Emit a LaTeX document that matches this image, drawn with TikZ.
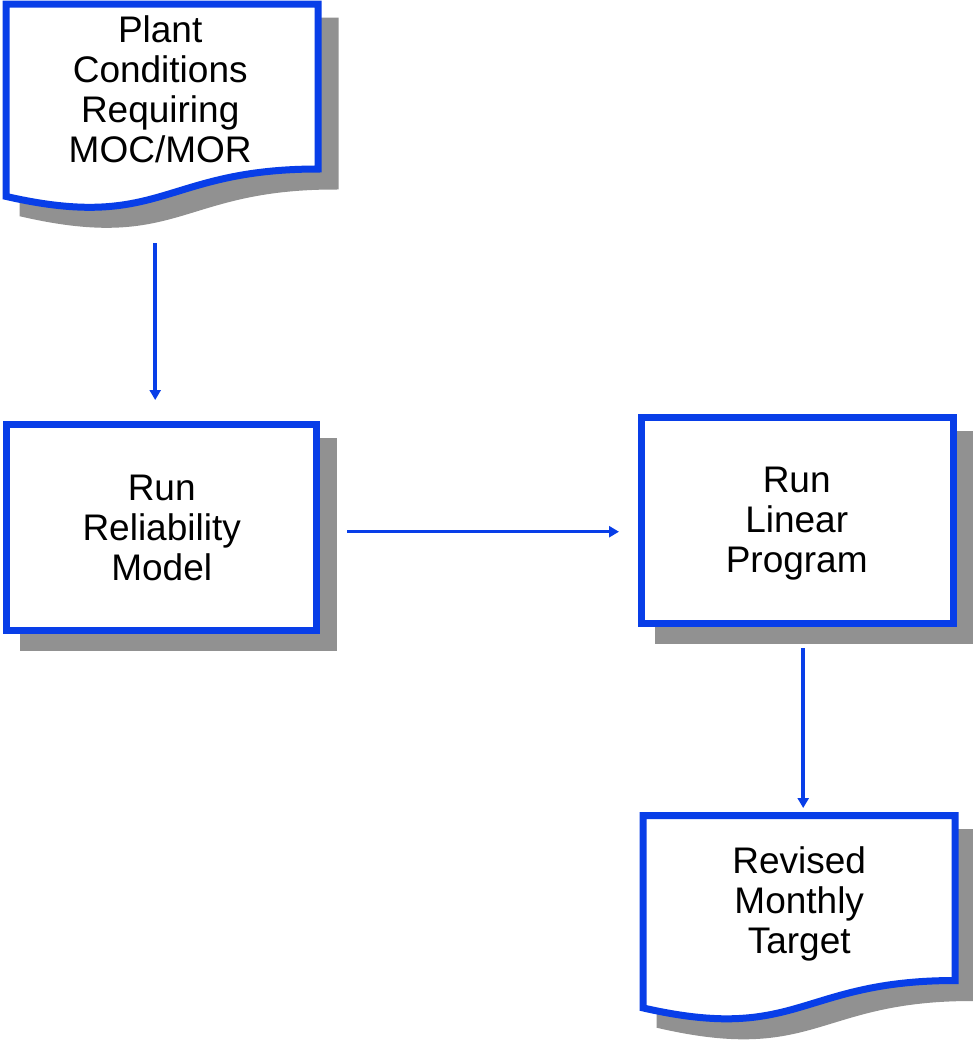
\documentclass[tikz,border=0pt]{standalone}
\usepackage{fontspec}
\setmainfont{Liberation Sans}
\usetikzlibrary{arrows.meta}
\definecolor{flowblue}{RGB}{8,62,232}
\definecolor{shadegray}{RGB}{145,145,145}

\tikzset{
  geom/.style={draw=none, inner sep=0pt, minimum width=312pt, minimum height=206pt},
  framepath/.style={draw=flowblue, line width=7pt, fill=white, line join=miter},
  shadowpath/.style={draw=shadegray, fill=shadegray, line width=7pt},
  lbl/.style={align=center, inner sep=0pt, font=\fontsize{37}{40}\selectfont},
  flow/.style={draw=flowblue, line width=3.5pt, -{Triangle[length=10pt,width=11pt]}},
  docshape/.style={insert path={(0,0) -- (312,0) -- (312,165) .. controls (156,165) and (156,228) .. (0,192.4) -- cycle}}
}

\begin{document}
\begin{tikzpicture}[x=1pt, y=-1pt]
\useasboundingbox (0,0) rectangle (973,1045);

% frame geometry of the four steps
\node[geom, anchor=north west] (cond) at (6,4) {};
\node[geom, minimum width=310pt, anchor=north west] (rel) at (6.5,424.5) {};
\node[geom, anchor=north west] (lin) at (641.5,417.5) {};
\node[geom, anchor=north west] (rev) at (643,815.5) {};

% shadows
\begin{scope}[shift={(cond.north west)}, shift={(17,17)}]
  \path[shadowpath, docshape];
\end{scope}
\begin{scope}[shift={(rev.north west)}, shift={(17,17)}]
  \path[shadowpath, docshape];
\end{scope}
\path[shadowpath] ([shift={(17,17)}]rel.north west) rectangle ([shift={(17,17)}]rel.south east);
\path[shadowpath] ([shift={(16.5,16.5)}]lin.north west) rectangle ([shift={(16.5,16.5)}]lin.south east);

% frames
\begin{scope}[shift={(cond.north west)}]
  \path[framepath, docshape];
\end{scope}
\begin{scope}[shift={(rev.north west)}]
  \path[framepath, docshape];
\end{scope}
\path[framepath] (rel.north west) rectangle (rel.south east);
\path[framepath] (lin.north west) rectangle (lin.south east);

% texts
\node[lbl] (condtext) at ([shift={(-2,-17.5)}]cond.center) {Plant\\Conditions\\Requiring\\MOC/MOR};
\node[lbl] (reltext) at ([shift={(0,0.5)}]rel.center) {Run\\Reliability\\Model};
\node[lbl] (lintext) at ([shift={(-1,2.5)}]lin.center) {Run\\Linear\\Program};
\node[lbl] (revtext) at ([shift={(0,-15)}]rev.center) {Revised\\Monthly\\Target};

% connectors
\draw[flow, shorten <=33pt, shorten >=24.5pt] ([xshift=-7pt]cond.south) -- ([xshift=-6.5pt]rel.north);
\coordinate (relout) at ([yshift=-4pt]rel.east);
\draw[flow, shorten <=30.5pt, shorten >=22.5pt] (relout) -- (relout -| lin.west);
\draw[flow, shorten <=24.5pt, shorten >=7.5pt] ([xshift=5.5pt]lin.south) -- ([xshift=4pt]rev.north);
\end{tikzpicture}
\end{document}
